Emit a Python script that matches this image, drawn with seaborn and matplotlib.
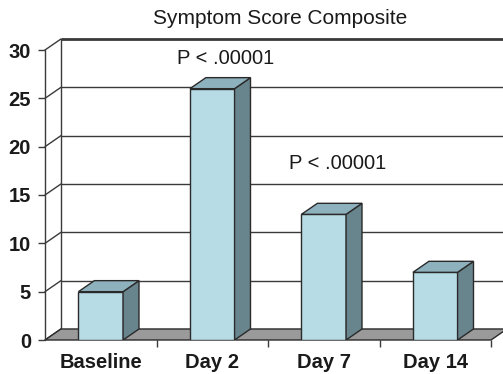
import matplotlib
matplotlib.use("Agg")
import matplotlib.pyplot as plt
from matplotlib.patches import Polygon
import seaborn as sns
import pandas as pd

# Chart data
categories = ["Baseline", "Day 2", "Day 7", "Day 14"]
scores = [5, 26, 13, 7]
y_ticks = [0, 5, 10, 15, 20, 25, 30]
p_labels = ["", "P < .00001", "P < .00001", ""]
title = "Symptom Score Composite"

sns.set_style("white")
plt.rcParams["font.family"] = ["Liberation Sans", "DejaVu Sans"]

FRONT = "#b8dce6"
TOP = "#8eb1be"
SIDE = "#68848d"
FLOOR = "#9a9a9a"
EDGE = "#2a2a2a"
GRID = "#3a3a3a"

# depth of the pseudo-3D extrusion, in data units (x: categories, y: score)
DX, DY = 0.143, 1.14

W, H = 503, 374
fig = plt.figure(figsize=(W / 100, H / 100), dpi=100)
ax = fig.add_axes([45 / W, 34 / H, (491 - 45) / W, 290 / H])

df = pd.DataFrame({"category": categories, "score": scores})
sns.barplot(data=df, x="category", y="score", width=0.4, color=FRONT,
            saturation=1, edgecolor=EDGE, linewidth=1.0, ax=ax, zorder=4)

ax.set_xlim(-0.5, 3.5)
ax.set_ylim(0, 30)
for s in ax.spines.values():
    s.set_visible(False)

x_left, x_right = -0.5, 3.5

# floor
floor = Polygon([(x_left, 0), (x_right, 0), (x_right + DX, DY), (x_left + DX, DY)],
                closed=True, facecolor=FLOOR, edgecolor=EDGE, linewidth=1.0,
                zorder=2, clip_on=False)
ax.add_patch(floor)

# back wall gridlines and side wall diagonals
for v in y_ticks:
    lw = 2.0 if v == y_ticks[-1] else 1.0
    if v > 0:
        ax.plot([x_left + DX, x_right + DX + 0.2], [v + DY, v + DY], color=GRID,
                lw=lw, zorder=1, clip_on=False, solid_capstyle="butt")
    ax.plot([x_left, x_left + DX], [v, v + DY], color=GRID, lw=1.0,
            zorder=1, clip_on=False)
ax.plot([x_left + DX, x_left + DX], [DY, y_ticks[-1] + DY], color=GRID, lw=1.0,
        zorder=1, clip_on=False)
ax.plot([x_left, x_left], [0, y_ticks[-1]], color=GRID, lw=1.0, zorder=3,
        clip_on=False)

# side and top faces of each bar
for p in list(ax.patches):
    if p is floor:
        continue
    x0, w, h = p.get_x(), p.get_width(), p.get_height()
    side = Polygon([(x0 + w, 0), (x0 + w + DX, DY), (x0 + w + DX, h + DY), (x0 + w, h)],
                   closed=True, facecolor=SIDE, edgecolor=EDGE, linewidth=1.0, zorder=4)
    top = Polygon([(x0, h), (x0 + w, h), (x0 + w + DX, h + DY), (x0 + DX, h + DY)],
                  closed=True, facecolor=TOP, edgecolor=EDGE, linewidth=1.0, zorder=4)
    ax.add_patch(side)
    ax.add_patch(top)

# significance labels
label_y = {1: 29.1, 2: 18.25}
for i, lab in enumerate(p_labels):
    if lab:
        ax.text(i + 0.12, label_y[i], lab, ha="center", va="center",
                fontsize=14.5, color="#1a1a1a")

# ticks
ax.set_yticks(y_ticks)
ax.set_yticklabels([str(v) for v in y_ticks], fontsize=14.5, fontweight="bold",
                   color="#1a1a1a")
ax.set_xticks(range(len(categories)))
ax.set_xticklabels(categories, fontsize=14.5, fontweight="bold", color="#1a1a1a")
ax.set_xticks([0.5, 1.5, 2.5, 3.5], minor=True)
ax.tick_params(axis="y", which="major", left=True, length=5, width=1.0,
               color=GRID, pad=5, direction="out")
ax.tick_params(axis="x", which="major", bottom=False, length=0, pad=9)
ax.tick_params(axis="x", which="minor", bottom=True, length=5, width=1.0,
               color=GRID, direction="out")
ax.set_xlabel("")
ax.set_ylabel("")
ax.grid(False)

fig.text(280 / W, 1 - 19 / H, title, ha="center", va="center", fontsize=15,
         color="#1a1a1a")

fig.savefig("out.png", dpi=100)
